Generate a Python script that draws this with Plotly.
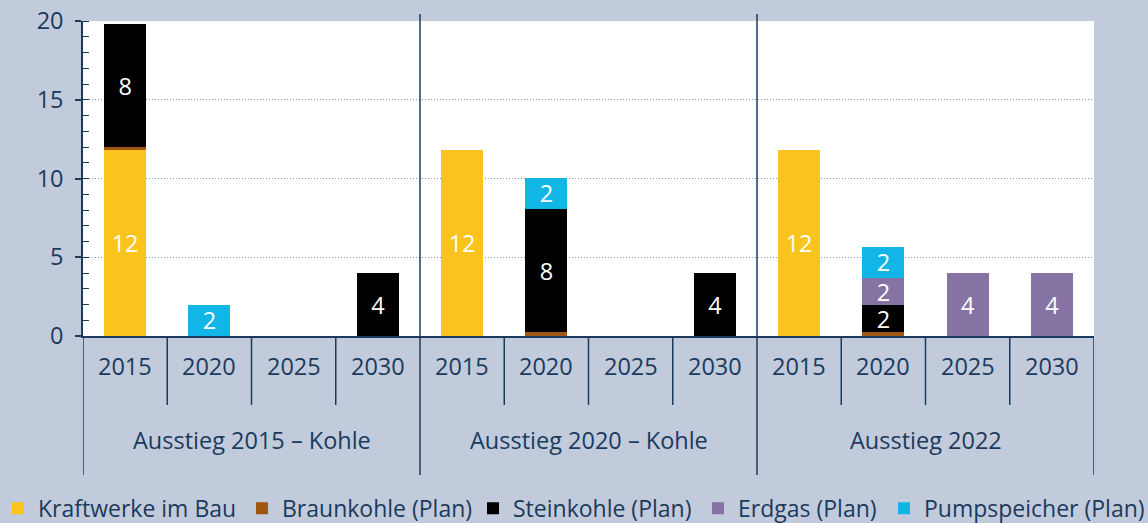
import plotly.graph_objects as go

# ---- data ----
groups = ["Ausstieg 2015 – Kohle", "Ausstieg 2020 – Kohle", "Ausstieg 2022"]
years = ["2015", "2020", "2025", "2030"]

kraftwerke_im_bau = [11.8, None, None, None, 11.8, None, None, None, 11.8, None, None, None]
braunkohle_plan = [0.2, None, None, None, None, 0.25, None, None, None, 0.25, None, None]
steinkohle_plan = [7.8, None, None, 4.0, None, 7.8, None, 4.0, None, 1.72, None, None]
erdgas_plan = [None, None, None, None, None, None, None, None, None, 1.7, 4.0, 4.0]
pumpspeicher_plan = [None, 2.0, None, None, None, 2.0, None, None, None, 2.0, None, None]

series = [
    ("Kraftwerke im Bau", kraftwerke_im_bau, "#fbc41d", True),
    ("Braunkohle (Plan)", braunkohle_plan, "#a0570f", False),
    ("Steinkohle (Plan)", steinkohle_plan, "#000000", True),
    ("Erdgas (Plan)", erdgas_plan, "#8574a3", True),
    ("Pumpspeicher (Plan)", pumpspeicher_plan, "#11b5e6", True),
]

# ---- style ----
FONT = "Open Sans"
NAVY = "#1b3a5c"
BG = "#c1cbdc"
FS = 23.5
LEG_FS = 23
PLOT_L, PLOT_W = 83, 1011
legend_text_px = [38, 282, 513, 738, 924]   # left edge of each legend entry's text

n_years = len(years)
n_groups = len(groups)
positions = list(range(n_years * n_groups))

fig = go.Figure()
legend_layouts = {}
for i, (name, vals, color, labelled) in enumerate(series):
    lname = "legend" if i == 0 else "legend%d" % (i + 1)
    text = [("%.0f" % v if (v is not None and labelled) else "") for v in vals]
    fig.add_trace(go.Bar(
        x=positions, y=vals, name=name, legend=lname,
        marker=dict(color=color, line=dict(width=0)),
        width=0.5,
        text=text, textposition="inside", insidetextanchor="middle",
        textangle=0, constraintext="none",
        textfont=dict(family=FONT, size=FS, color="white"),
        hoverinfo="skip",
    ))
    legend_layouts[lname] = dict(
        orientation="h", x=(legend_text_px[i] - 40 - PLOT_L) / PLOT_W, xanchor="left",
        y=-0.547, yanchor="middle",
        font=dict(family=FONT, size=LEG_FS, color=NAVY),
        bgcolor="rgba(0,0,0,0)", itemclick=False,
    )

# years and group labels below axis
annotations = []
for g, gname in enumerate(groups):
    for k, yr in enumerate(years):
        annotations.append(dict(
            x=g * n_years + k, y=-0.095, xref="x", yref="paper",
            text=yr, showarrow=False, yanchor="middle", xanchor="center",
            font=dict(family=FONT, size=FS, color=NAVY),
        ))
    annotations.append(dict(
        x=g * n_years + (n_years - 1) / 2, y=-0.33, xref="x", yref="paper",
        text=gname, showarrow=False, yanchor="middle", xanchor="center",
        font=dict(family=FONT, size=FS, color=NAVY),
    ))

shapes = []
line_style = dict(color=NAVY, width=1.5)
for g in range(n_groups + 1):
    xb = g * n_years - 0.5
    top = 1.022 if 0 < g < n_groups else 0
    shapes.append(dict(type="line", xref="x", yref="paper", x0=xb, x1=xb,
                       y0=-0.441, y1=top, line=line_style))
for g in range(n_groups):
    for k in range(1, n_years):
        xb = g * n_years + k - 0.5
        shapes.append(dict(type="line", xref="x", yref="paper", x0=xb, x1=xb,
                           y0=-0.219, y1=0, line=line_style))

fig.update_layout(
    width=1148, height=523,
    barmode="stack",
    paper_bgcolor=BG, plot_bgcolor="white",
    margin=dict(l=PLOT_L, r=1148 - PLOT_L - PLOT_W, t=21, b=187, autoexpand=False),
    font=dict(family=FONT, size=FS, color=NAVY),
    showlegend=True,
    annotations=annotations,
    shapes=shapes,
    xaxis=dict(range=[-0.5, len(positions) - 0.5], showticklabels=False,
               showgrid=False, zeroline=False, ticks="",
               showline=True, linecolor=NAVY, linewidth=1.5),
    yaxis=dict(range=[0, 20], tickvals=[0, 5, 10, 15, 20], ticks="outside",
               ticklen=6, tickcolor=NAVY, tickwidth=1.5,
               showline=True, linecolor=NAVY, linewidth=1.5,
               showgrid=True, gridcolor="#8396b3", griddash="1px,2px", gridwidth=1,
               zeroline=False, ticklabelstandoff=7,
               tickfont=dict(family=FONT, size=FS, color=NAVY),
               minor=dict(ticks="inside", dtick=1, ticklen=6, tickcolor=NAVY,
                          tickwidth=1, showgrid=False)),
)
fig.update_layout(**legend_layouts)

fig.write_html("out.html", config={"displayModeBar": False},
               post_script="document.body.style.margin='0';")
